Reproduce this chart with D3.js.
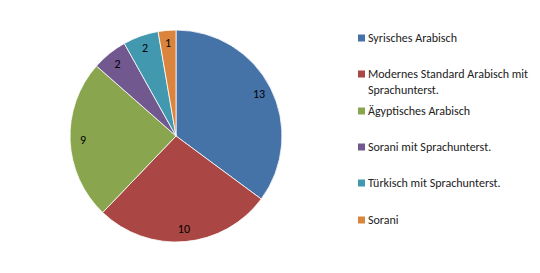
<!DOCTYPE html>
<html>
<head>
<meta charset="utf-8">
<script src="https://cdn.jsdelivr.net/npm/d3@7"></script>
<style>
  body { margin: 0; background: #fff; }
  svg { display: block; font-family: Carlito, "Open Sans", "Liberation Sans", sans-serif; }
</style>
</head>
<body>
<svg id="chart" width="540" height="273"></svg>
<script>
const categories = ['Syrisches Arabisch', 'Modernes Standard Arabisch mit Sprachunterst.', 'Ägyptisches Arabisch', 'Sorani mit Sprachunterst.', 'Türkisch mit Sprachunterst.', 'Sorani'];
const legendLines = [['Syrisches Arabisch'], ['Modernes Standard Arabisch mit', 'Sprachunterst.'], ['Ägyptisches Arabisch'], ['Sorani mit Sprachunterst.'], ['Türkisch mit Sprachunterst.'], ['Sorani']];
const values = [13, 10, 9, 2, 2, 1];
const colors = ['#4572a7', '#aa4643', '#89a54e', '#71588f', '#4198af', '#db843d'];

const cx = 176, cy = 136, radius = 106;
const labelRadius = 93;

const svg = d3.select('#chart');

const pie = d3.pie().sort(null).value(d => d.value);
const arcs = pie(categories.map((c, i) => ({name: c, value: values[i], color: colors[i]})));

const arc = d3.arc().innerRadius(0).outerRadius(radius);
const labelArc = d3.arc().innerRadius(labelRadius).outerRadius(labelRadius);

const g = svg.append('g').attr('transform', `translate(${cx}, ${cy})`);

g.selectAll('.slice')
  .data(arcs)
  .join('path')
    .classed('slice', true)
    .attr('d', arc)
    .style('fill', d => d.data.color)
    .style('stroke', '#fff')
    .style('stroke-width', 0.8);

g.selectAll('.sliceLabel')
  .data(arcs)
  .join('text')
    .classed('sliceLabel', true)
    .attr('transform', d => `translate(${labelArc.centroid(d)})`)
    .style('text-anchor', 'middle')
    .style('dominant-baseline', 'central')
    .style('font-size', '12px')
    .style('fill', '#000')
    .text(d => d.data.value);

// Legend
const legendRowsY = [38, 74, 111, 147, 183, 220];
const legend = svg.append('g');

legendLines.forEach((lines, i) => {
  legend.append('rect')
    .attr('x', 358)
    .attr('y', legendRowsY[i] - 3.5)
    .attr('width', 7)
    .attr('height', 7)
    .style('fill', colors[i]);

  const t = legend.append('text')
    .attr('x', 368)
    .attr('y', legendRowsY[i])
    .style('font-size', '12px')
    .style('fill', '#222')
    .style('dominant-baseline', 'central');

  lines.forEach((line, j) => {
    t.append('tspan')
      .attr('x', 368)
      .attr('dy', j === 0 ? 0 : 16)
      .text(line);
  });
});
</script>
</body>
</html>
